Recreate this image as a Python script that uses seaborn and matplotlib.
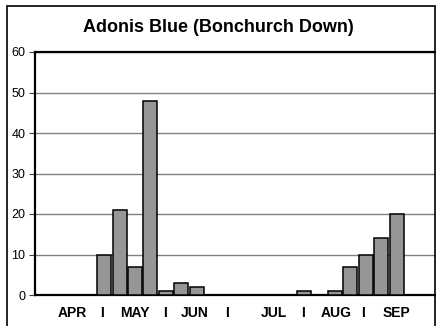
import matplotlib
matplotlib.use("Agg")
import matplotlib.pyplot as plt
from matplotlib.patches import Rectangle
import seaborn as sns

# weekly counts, April to September (26 weeks)
weeks = [str(i) for i in range(1, 27)]
counts = [0, 0, 0, 0, 10, 21, 7, 48, 1, 3, 2, 0, 0,
          0, 0, 0, 0, 1, 0, 1, 7, 10, 14, 20, 0, 0]

month_labels = ["APR", "I", "MAY", "I", "JUN", "I", "JUL", "I", "AUG", "I", "SEP"]
month_pos = [1.9, 3.85, 6.0, 7.95, 9.9, 12.0, 15.05, 16.95, 19.1, 20.85, 23.0]

y_ticks = [0, 10, 20, 30, 40, 50, 60]
title = "Adonis Blue (Bonchurch Down)"

sns.set_style("white")
plt.rcParams["font.family"] = ["Liberation Sans", "DejaVu Sans"]
plt.rcParams["text.color"] = "black"
plt.rcParams["xtick.color"] = "black"
plt.rcParams["ytick.color"] = "black"

W, H = 436, 326
fig = plt.figure(figsize=(W / 100, H / 100), dpi=100)
ax = fig.add_axes([35 / W, (H - 295) / H, 400 / W, 243 / H])

sns.barplot(x=weeks, y=counts, order=weeks, color="#969696", saturation=1,
            edgecolor="black", linewidth=1.1, width=0.91, ax=ax, zorder=3)

ax.set_xlim(-0.5, len(weeks) - 0.5)
ax.set_ylim(0, 60)
ax.set_yticks(y_ticks)
ax.set_yticklabels([str(v) for v in y_ticks], fontsize=9)
ax.set_xticks(month_pos)
ax.set_xticklabels(month_labels, fontsize=10, fontweight="bold")
ax.tick_params(axis="x", length=0, pad=8)
ax.tick_params(axis="y", length=4, width=0.8, color="#404040", pad=3, left=True)
ax.set_xlabel("")
ax.set_ylabel("")

ax.yaxis.grid(True, color="#808080", linewidth=1.0, zorder=0)
ax.set_axisbelow(True)
for side in ["left", "bottom", "top"]:
    ax.spines[side].set_color("black")
    ax.spines[side].set_linewidth(1.6)
    ax.spines[side].set_visible(True)
ax.spines["right"].set_visible(False)

# outer chart frame (cut off at the bottom)
fig.patches.append(Rectangle((7 / W, -0.1), (435 - 7) / W, 1.1 - 6 / H,
                             transform=fig.transFigure, fill=False,
                             edgecolor="black", linewidth=1.2))

fig.text(0.5, 1 - 27 / H, title, ha="center", va="center",
         fontsize=13, fontweight="bold")

fig.savefig("out.png", dpi=100)
